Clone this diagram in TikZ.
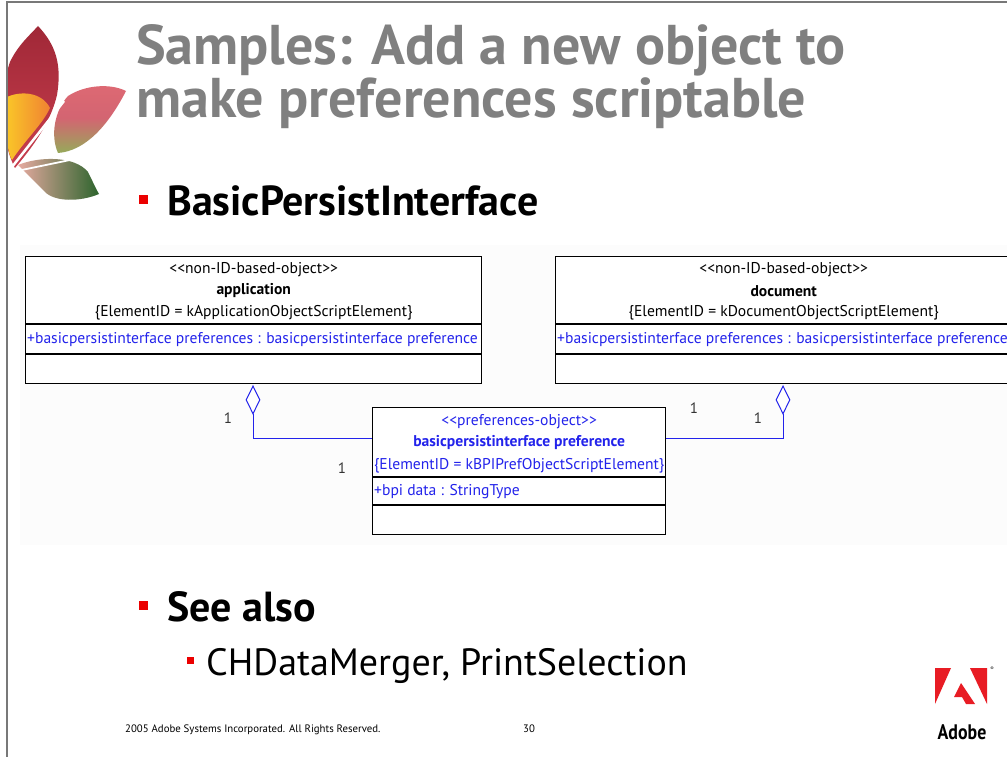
\documentclass[tikz,border=0pt]{standalone}
\usepackage{fontspec}
\setmainfont{PT Sans}
\usetikzlibrary{shapes.geometric,calc}
\definecolor{titlegray}{RGB}{128,128,128}
\definecolor{umlblue}{RGB}{35,35,235}
\definecolor{bulletred}{RGB}{235,0,0}
\definecolor{adobered}{RGB}{232,28,36}
\definecolor{framegray}{RGB}{120,120,120}
\definecolor{petalred}{RGB}{200,62,78}
\definecolor{petaldark}{RGB}{160,40,55}
\definecolor{petalpink}{RGB}{222,105,115}
\definecolor{petallight}{RGB}{230,170,160}
\definecolor{petalgreen}{RGB}{45,100,45}
\definecolor{petalolive}{RGB}{150,170,90}
\definecolor{petalorange}{RGB}{240,130,50}
\definecolor{petalyellow}{RGB}{250,200,40}
\tikzset{
  titletext/.style={font=\fontsize{56}{66}\selectfont\bfseries, text=titlegray, inner sep=0pt, anchor=base west},
  headtext/.style={font=\fontsize{42}{50}\selectfont\bfseries, inner sep=0pt, anchor=base west},
  subtext/.style={font=\fontsize{38}{45}\selectfont, inner sep=0pt, anchor=base west},
  bulletsq/.style={fill=bulletred, inner sep=0pt, minimum size=#1},
  umlbox/.style={draw=black, line width=1.4pt, fill=white, anchor=north west, inner sep=0pt,
                 minimum width=#1},
  umltext/.style={font=\fontsize{15.6}{18}\selectfont, inner sep=0pt},
  umlbold/.style={font=\fontsize{15.6}{18}\selectfont\bfseries, inner sep=0pt},
  assoc/.style={draw=umlblue, line width=1pt},
  aggr/.style={diamond, draw=umlblue, fill=white, line width=1pt, inner sep=0pt,
               minimum width=14pt, minimum height=28pt, anchor=north},
  mult/.style={font=\fontsize{15}{18}\selectfont, text=black!80, inner sep=0pt},
  foot/.style={font=\fontsize{10.8}{12}\selectfont, inner sep=0pt},
}
\begin{document}
\begin{tikzpicture}[x=1pt,y=-1pt]
\useasboundingbox (0,0) rectangle (1007,757);
\clip (0,0) rectangle (1007,757);
\fill[white] (0,0) rectangle (1007,757);
% faint panel behind the class diagram
\fill[black!1.2] (20,245) rectangle (1007,545);

% leaf emblem
\begin{scope}
  \clip (7,0) rectangle (140,210);
  % top petal
  \shade[top color=petaldark, bottom color=petalred]
    (38,26) .. controls (56,45) and (62,65) .. (57,95)
    .. controls (50,125) and (30,150) .. (15,168)
    .. controls (0,140) and (0,90) .. (10,62)
    .. controls (18,45) and (30,35) .. (38,26) -- cycle;
  % orange petal
  \shade[left color=petalyellow, right color=petalorange]
    (5,98) .. controls (20,90) and (42,92) .. (50,108)
    .. controls (42,125) and (25,140) .. (12,160)
    .. controls (6,150) and (5,120) .. (5,98) -- cycle;
  % right petal
  \shade[top color=petalpink, bottom color=petalolive, middle color=petalred!80!white]
    (126,91) .. controls (110,83) and (85,85) .. (68,96)
    .. controls (55,110) and (50,135) .. (58,153)
    .. controls (85,151) and (108,126) .. (126,91) -- cycle;
  % bottom petal
  \shade[left color=petallight, right color=petalgreen]
    (18,165) .. controls (40,156) and (75,156) .. (88,172)
    .. controls (93,182) and (96,189) .. (99,194)
    .. controls (80,202) and (55,202) .. (45,192)
    .. controls (35,182) and (25,172) .. (18,165) -- cycle;
  % pale gaps between petals
  \draw[white, line width=2.5pt] (8,172) -- (64,101);
  \draw[white, line width=1.8pt] (12,172) -- (70,160);
\end{scope}

% slide frame
\draw[framegray, line width=1.3pt] (7,757) -- (7,2) -- (1007,2);

% title
\node[titletext] (t1) at (136,65) {Samples: Add a new object to};
\node[titletext] (t2) at (136,118) {make preferences scriptable};

% first bullet
\node[bulletsq=9pt] (bu1) at (143.5,199.5) {};
\node[headtext] (h1) at (167,215) {BasicPersistInterface};

% class: application
\node[umlbox=456pt, minimum height=127pt] (A) at (25,256) {};
\draw[line width=1.4pt] ($(A.north west)+(0,68)$) -- ($(A.north east)+(0,68)$);
\draw[line width=1.4pt] ($(A.north west)+(0,98)$) -- ($(A.north east)+(0,98)$);
\node[umltext] (A1) at ($(A.north)+(0,13.5)$) {<{}<non-ID-based-object>{}>};
\node[umlbold] (A2) at ($(A.north)+(0,35)$) {application};
\node[umltext] (A3) at ($(A.north)+(0,56.5)$) {\{ElementID = kApplicationObjectScriptElement\}};
\node[umltext, text=umlblue, anchor=west] (A4) at ($(A.north west)+(2,84)$) {+basicpersistinterface preferences : basicpersistinterface preference};

% class: document
\node[umlbox=456pt, minimum height=127pt] (D) at (555,256) {};
\draw[line width=1.4pt] ($(D.north west)+(0,68)$) -- ($(D.north east)+(0,68)$);
\draw[line width=1.4pt] ($(D.north west)+(0,98)$) -- ($(D.north east)+(0,98)$);
\node[umltext] (D1) at ($(D.north)+(0,13.5)$) {<{}<non-ID-based-object>{}>};
\node[umlbold] (D2) at ($(D.north)+(0,35)$) {document};
\node[umltext] (D3) at ($(D.north)+(0,56.5)$) {\{ElementID = kDocumentObjectScriptElement\}};
\node[umltext, text=umlblue, anchor=west] (D4) at ($(D.north west)+(2,84)$) {+basicpersistinterface preferences : basicpersistinterface preference};

% class: basicpersistinterface preference
\node[umlbox=293pt, minimum height=127pt] (P) at (372,407) {};
\draw[line width=1.4pt] ($(P.north west)+(0,70)$) -- ($(P.north east)+(0,70)$);
\draw[line width=1.4pt] ($(P.north west)+(0,98)$) -- ($(P.north east)+(0,98)$);
\node[umltext, text=umlblue] (P1) at ($(P.north)+(0,14.5)$) {<{}<preferences-object>{}>};
\node[umlbold, text=umlblue] (P2) at ($(P.north)+(0,36)$) {basicpersistinterface preference};
\node[umltext, text=umlblue] (P3) at ($(P.north)+(0,58.5)$) {\{ElementID = kBPIPrefObjectScriptElement\}};
\node[umltext, text=umlblue, anchor=west] (P4) at ($(P.north west)+(2,85)$) {+bpi data : StringType};

% aggregations
\node[aggr] (dA) at ($(A.south west)+(228,1)$) {};
\node[aggr] (dD) at ($(D.south west)+(228,1)$) {};
\coordinate (Pl) at ($(P.north west)+(0,31)$);
\coordinate (Pr) at ($(P.north east)+(0,31)$);
\draw[assoc] (dA.south) |- (Pl);
\draw[assoc] (dD.south) |- (Pr);
\node[mult] (mA1) at (228,418) {1};
\node[mult] (mA2) at (342,468) {1};
\node[mult] (mD1) at (694,408) {1};
\node[mult] (mD2) at (758,418) {1};

% second bullet and its sub-item
\node[bulletsq=9pt] (bu2) at (143.5,605.5) {};
\node[headtext] (h2) at (167,621) {See also};
\node[bulletsq=7pt] (bu3) at (190.5,660) {};
\node[subtext] (s1) at (206,675) {CHDataMerger, PrintSelection};

% footer
\node[foot, anchor=base west] (f1) at (125,732) {2005 Adobe Systems Incorporated. All Rights Reserved.};
\node[foot, anchor=base west] (f2) at (523,732) {30};

% Adobe logo
\fill[adobered] (935,668) -- (951,668) -- (935,704) -- cycle;
\fill[adobered] (970,668) -- (987,668) -- (987,704) -- cycle;
\fill[adobered] (961,683) -- (975,704) -- (966,704) -- (962,697) -- (954,697) -- cycle;
\node[inner sep=0pt, font=\fontsize{5}{6}\selectfont] (reg) at (992,669) {®};
\node[inner sep=0pt, anchor=base, font=\fontsize{21}{24}\selectfont\bfseries, xscale=0.85] (logo) at (962,739) {Adobe};
\end{tikzpicture}
\end{document}
